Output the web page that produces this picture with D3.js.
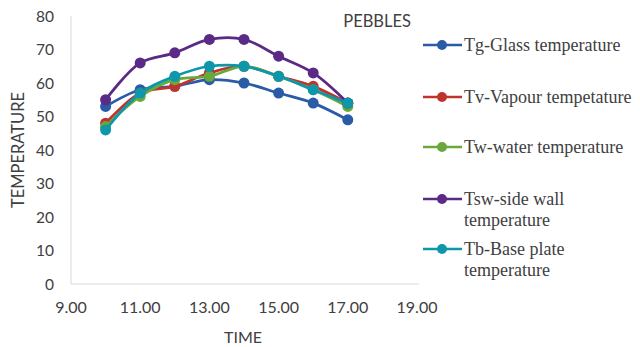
<!DOCTYPE html>
<html>
<head>
<meta charset="utf-8">
<script src="https://cdn.jsdelivr.net/npm/d3@7"></script>
<style>
  body { margin: 0; background: #fff; }
  svg { display: block; }
</style>
</head>
<body>
<svg id="chart" width="640" height="347"></svg>
<script>
// data
const times = [10, 11, 12, 13, 14, 15, 16, 17];
const tg  = [53, 58, 59, 61, 60, 57, 54, 49];
const tv  = [48, 57, 59, 63, 65, 62, 59, 54];
const tw  = [47, 56, 61, 62, 65, 62, 58, 53];
const tsw = [55, 66, 69, 73, 73, 68, 63, 54];
const tb  = [46, 57, 62, 65, 65, 62, 58, 54];
const seriesNames = [
  ["Tg-Glass temperature"],
  ["Tv-Vapour tempetature"],
  ["Tw-water temperature"],
  ["Tsw-side wall", "temperature"],
  ["Tb-Base plate", "temperature"]
];
const xTicks = [9, 11, 13, 15, 17, 19];
const yTicks = [0, 10, 20, 30, 40, 50, 60, 70, 80];

const colors = ["#2a5ba6", "#c0332c", "#6aa83c", "#5a2a86", "#0e97ab"];
const series = [tg, tv, tw, tsw, tb].map((vals, i) => ({
  name: seriesNames[i], color: colors[i],
  pts: vals.map((v, j) => ({ x: times[j], y: v }))
}));

const svg = d3.select("#chart");
const x = d3.scaleLinear().domain([9, 19]).range([71, 417]);
const y = d3.scaleLinear().domain([0, 80]).range([284, 16]);

// axes lines
svg.append("line").attr("x1", 71).attr("x2", 71).attr("y1", 16).attr("y2", 284)
  .attr("stroke", "#d9d9d9").attr("stroke-width", 1);
svg.append("line").attr("x1", 71).attr("x2", 419).attr("y1", 284).attr("y2", 284)
  .attr("stroke", "#d9d9d9").attr("stroke-width", 1);

const tickFont = "Lato, 'Open Sans', sans-serif";
svg.selectAll(".ytick").data(yTicks).enter().append("text")
  .attr("x", 54).attr("y", d => y(d) + 5.5)
  .attr("text-anchor", "end")
  .attr("font-family", tickFont).attr("font-size", 15.5).attr("fill", "#404040")
  .text(d => d);

svg.selectAll(".xtick").data(xTicks).enter().append("text")
  .attr("x", d => x(d)).attr("y", 313)
  .attr("text-anchor", "middle")
  .attr("font-family", tickFont).attr("font-size", 16).attr("fill", "#404040")
  .text(d => d3.format(".2f")(d));

svg.append("text").attr("x", 243).attr("y", 343).attr("text-anchor", "middle")
  .attr("font-family", tickFont).attr("font-size", 16).attr("fill", "#404040")
  .text("TIME");

svg.append("text").attr("transform", "translate(24,150) rotate(-90)")
  .attr("text-anchor", "middle")
  .attr("font-family", tickFont).attr("font-size", 16.5).attr("fill", "#404040")
  .text("TEMPERATURE");

svg.append("text").attr("x", 411).attr("y", 27).attr("text-anchor", "end")
  .attr("font-family", tickFont).attr("font-size", 16.5).attr("fill", "#404040")
  .text("PEBBLES");

// lines
const line = d3.line().x(d => x(d.x)).y(d => y(d.y)).curve(d3.curveCatmullRom.alpha(0.5));
const g = svg.append("g");
series.forEach(s => {
  g.append("path").datum(s.pts).attr("d", line)
    .attr("fill", "none").attr("stroke", s.color).attr("stroke-width", 2.75);
  g.selectAll(null).data(s.pts).enter().append("circle")
    .attr("cx", d => x(d.x)).attr("cy", d => y(d.y)).attr("r", 5.5)
    .attr("fill", s.color);
});

// legend
const legY = [45, 97, 147, 199, 249];
const leg = svg.append("g");
series.forEach((s, i) => {
  const row = leg.append("g").attr("transform", `translate(0,${legY[i]})`);
  row.append("line").attr("x1", 423).attr("x2", 462).attr("y1", 0).attr("y2", 0)
    .attr("stroke", s.color).attr("stroke-width", 2.5);
  row.append("circle").attr("cx", 442).attr("cy", 0).attr("r", 5).attr("fill", s.color);
  s.name.forEach((t, k) => {
    row.append("text").attr("x", 464).attr("y", 6 + k * 21)
      .attr("font-family", "'Liberation Serif', 'Times New Roman', serif")
      .attr("font-size", 18).attr("fill", "#404040")
      .text(t);
  });
});
</script>
</body>
</html>
